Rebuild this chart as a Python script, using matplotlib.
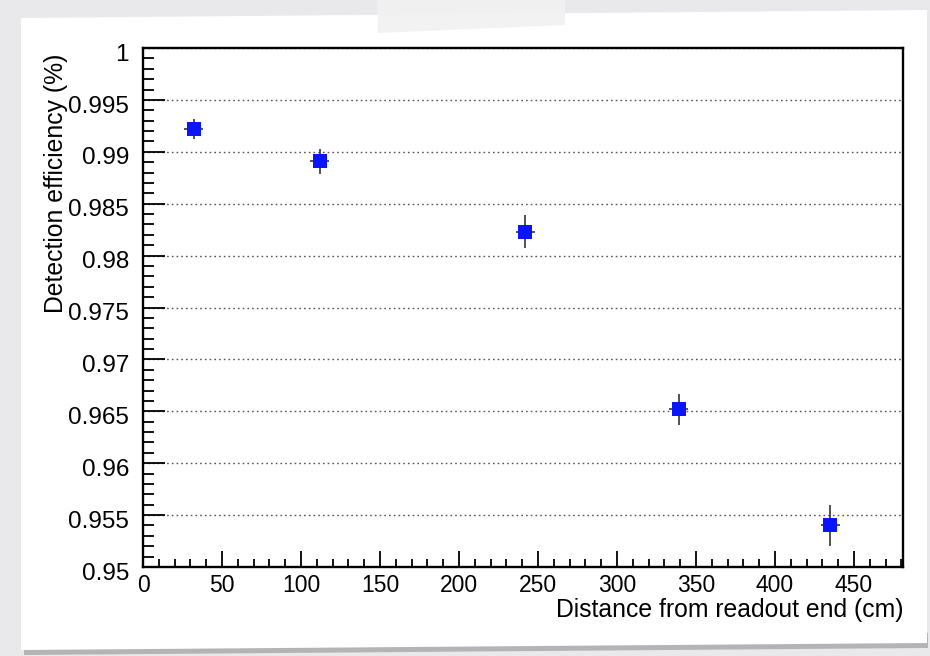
import matplotlib
matplotlib.use("Agg")
import matplotlib.pyplot as plt
import matplotlib.transforms as mtransforms
from matplotlib.patches import Polygon
from matplotlib.ticker import MultipleLocator, FixedLocator

# Measured detection efficiency along the bar
distance = [32, 112, 242, 339, 435]              # cm from readout end
distance_err = [6, 6, 6, 6, 6]
efficiency = [0.9922, 0.9891, 0.9823, 0.9652, 0.9540]
efficiency_err = [0.0010, 0.0012, 0.0016, 0.0015, 0.0020]

y_ticks = [0.95, 0.955, 0.96, 0.965, 0.97, 0.975, 0.98, 0.985, 0.99, 0.995, 1.0]
y_tick_labels = ["0.95", "0.955", "0.96", "0.965", "0.97", "0.975",
                 "0.98", "0.985", "0.99", "0.995", "1"]

plt.rcParams["font.family"] = ["Liberation Sans", "DejaVu Sans"]

W, H = 930, 656
fig = plt.figure(figsize=(W / 100, H / 100), dpi=100)
fig.patch.set_facecolor("#e9e9eb")


def px(points):
    return [(x / W, 1 - y / H) for x, y in points]


# paper card with its drop shadow and a strip of tape
shadow = Polygon(px([(24, 640), (928, 633), (928, 648), (24, 655)]),
                 closed=True, transform=fig.transFigure, facecolor="#8a8a8a",
                 edgecolor="none", alpha=0.55, zorder=-3)
card = Polygon(px([(21, 18), (927, 10), (927, 643), (21, 650)]),
               closed=True, transform=fig.transFigure, facecolor="white",
               edgecolor="none", zorder=-2)
tape = Polygon(px([(377, 0), (565, 0), (565, 25), (378, 33)]),
               closed=True, transform=fig.transFigure, facecolor="#f1f1f1",
               edgecolor="none", alpha=0.9, zorder=-1)
for p in (shadow, card, tape):
    fig.patches.append(p)

ax = fig.add_axes([143 / W, 1 - 567 / H, (903 - 143) / W, (567 - 48) / H])
ax.set_zorder(1)
ax.set_facecolor("white")

ax.errorbar(distance, efficiency, xerr=distance_err, yerr=efficiency_err,
            fmt="s", color="#0a14ff", markersize=10, markeredgewidth=0,
            ecolor="#333333", elinewidth=1.2, capsize=3, capthick=1.3,
            zorder=3)

ax.set_xlim(0, 481)
ax.set_ylim(0.95, 1.0)

ax.xaxis.set_major_locator(MultipleLocator(50))
ax.xaxis.set_minor_locator(MultipleLocator(10))
ax.yaxis.set_major_locator(FixedLocator(y_ticks))
ax.set_yticklabels(y_tick_labels)
ax.yaxis.set_minor_locator(MultipleLocator(0.001))

ax.tick_params(axis="both", which="both", direction="in", color="black",
               top=False, right=False, width=1.3)
ax.tick_params(axis="x", which="major", length=11.5, pad=5, labelsize=16.5)
ax.tick_params(axis="x", which="minor", length=5.5)
ax.tick_params(axis="y", which="major", length=16, pad=10, labelsize=17.5)
ax.tick_params(axis="y", which="minor", length=8)

# y tick labels sit a little below their tick marks
shift = mtransforms.ScaledTranslation(0, -3 / 72, fig.dpi_scale_trans)
for lbl in ax.get_yticklabels():
    lbl.set_transform(lbl.get_transform() + shift)

ax.grid(axis="y", which="major", linestyle=(0, (1.2, 2.2)), color="#555555",
        linewidth=1.0)
ax.set_axisbelow(True)

for s in ax.spines.values():
    s.set_linewidth(1.7)
    s.set_color("black")

ax.set_xlabel("Distance from readout end (cm)", fontsize=17.8, loc="right",
              labelpad=1)
ax.set_ylabel("Detection efficiency (%)", fontsize=17.8, loc="top")
ax.yaxis.set_label_coords(-0.099, 0.99)

fig.savefig("out.png", dpi=100, facecolor=fig.get_facecolor())
